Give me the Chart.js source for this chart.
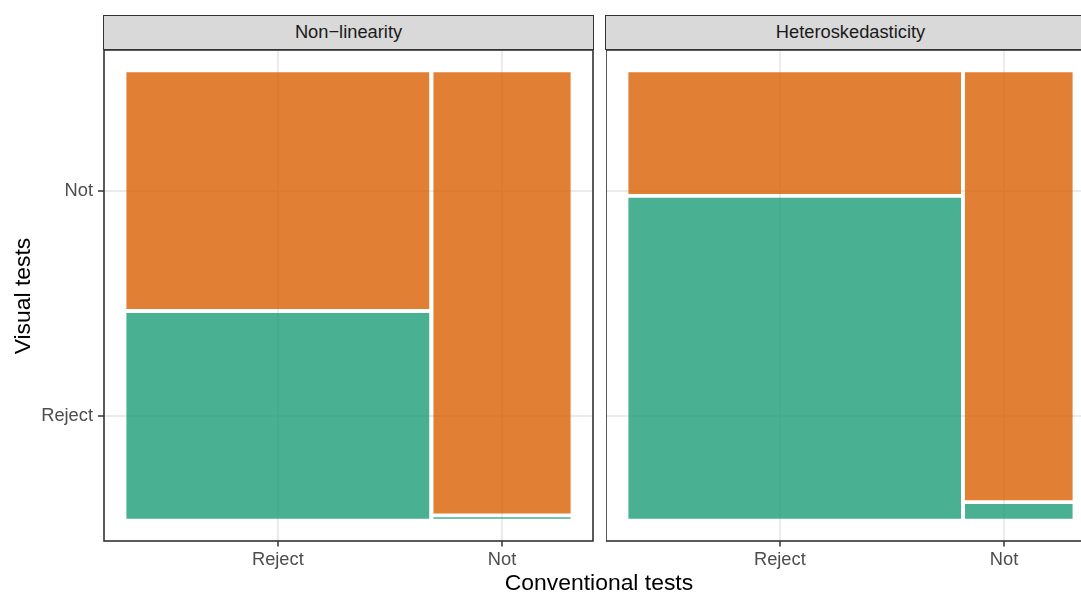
<!DOCTYPE html>
<html>
<head>
<meta charset="utf-8">
<script src="https://cdn.jsdelivr.net/npm/chart.js@4.4.1/dist/chart.umd.min.js"></script>
<style>
  html, body { margin: 0; padding: 0; background: #ffffff; }
  body { width: 1081px; height: 593px; position: relative; overflow: hidden;
         font-family: "Liberation Sans", Arial, sans-serif; }
  canvas { position: absolute; top: 0; }
  .strip { position: absolute; top: 15px; height: 35px; box-sizing: border-box;
           background: #D9D9D9; border: 1.6px solid #333333; color: #1A1A1A;
           font-size: 18.3px; line-height: 32px; text-align: center; }
  .title { position: absolute; color: #000000; font-size: 22.9px; white-space: nowrap; text-align: center; }
</style>
</head>
<body>
<canvas id="panel1" width="600" height="593" style="left:0px"></canvas>
<canvas id="panel2" width="500" height="593" style="left:606px"></canvas>
<div class="strip" id="strip1" style="left:103px; width:491px"></div>
<div class="strip" id="strip2" style="left:605px; width:491px"></div>
<div class="title" id="xTitle" style="left:399px; width:400px; top:571px; line-height:22.9px"></div>
<div class="title" id="yTitle" style="left:-128px; width:300px; top:283.5px; line-height:24px; transform:rotate(-90deg)"></div>
<script>
// Facets and factor levels
const panelNames = ['Non\u2212linearity', 'Heteroskedasticity'];
const conventionalLevels = ['Reject', 'Not'];
const visualLevels = ['Reject', 'Not'];
const xTitle = 'Conventional tests';
const yTitle = 'Visual tests';

// Share of cases in each conventional-test group (columns)
const nonlinConventionalShare = [0.688, 0.312];
const heteroConventionalShare = [0.755, 0.245];

// Share of visual "Reject" within each conventional-test group
const nonlinVisualRejectShare = [0.465, 0.003];
const heteroVisualRejectShare = [0.725, 0.033];

// Gap between tiles, in unit-square coordinates
const SPACING = 0.0085;
const FONT = 'Liberation Sans';
const levelColors = { Reject: 'rgba(27,158,119,0.8)', Not: 'rgba(217,95,2,0.8)' };

// Build mosaic tiles on the unit square: columns by conventional test,
// stacked by visual test (Reject at the bottom, Not on top).
function mosaicTiles(convShare, visRejectShare) {
  const tiles = [];
  const usableX = 1 - SPACING * (convShare.length - 1);
  let x0 = 0;
  convShare.forEach((share, i) => {
    const w = share * usableX;
    const h = visRejectShare[i] * (1 - SPACING);
    tiles.push({ col: i, level: visualLevels[0], x0, x1: x0 + w, y0: 0, y1: h });
    tiles.push({ col: i, level: visualLevels[1], x0, x1: x0 + w, y0: h + SPACING, y1: 1 });
    x0 += w + SPACING;
  });
  return tiles;
}

const nonlinTiles = mosaicTiles(nonlinConventionalShare, nonlinVisualRejectShare);
const heteroTiles = mosaicTiles(heteroConventionalShare, heteroVisualRejectShare);

// Axis breaks come from the first facet: column centres and first-column segment centres
const xTickValues = conventionalLevels.map((_, i) => {
  const t = nonlinTiles.find(d => d.col === i);
  return (t.x0 + t.x1) / 2;
});
const yTickValues = visualLevels.map(lv => {
  const t = nonlinTiles.find(d => d.col === 0 && d.level === lv);
  return (t.y0 + t.y1) / 2;
});

const panelBorder = {
  id: 'panelBorder',
  afterDraw(chart) {
    const { ctx, chartArea: a } = chart;
    ctx.save();
    ctx.strokeStyle = '#333333';
    ctx.lineWidth = 1.6;
    ctx.strokeRect(a.left, a.top, a.right - a.left, a.bottom - a.top);
    ctx.restore();
  }
};

function tileDatasets(tiles) {
  return tiles.map(t => ({
    data: [{ x: t.x0, y: t.y1 }, { x: t.x1, y: t.y1 }],
    fill: { value: t.y0 },
    backgroundColor: levelColors[t.level],
    borderColor: 'rgba(0,0,0,0)',
    borderWidth: 0,
    pointRadius: 0,
    tension: 0
  }));
}

function makePanel(canvasId, tiles, showY, padding) {
  return new Chart(document.getElementById(canvasId), {
    type: 'line',
    data: { datasets: tileDatasets(tiles) },
    options: {
      responsive: false,
      animation: false,
      devicePixelRatio: 1,
      events: [],
      layout: { padding },
      plugins: { legend: { display: false }, tooltip: { enabled: false } },
      scales: {
        x: {
          type: 'linear', min: -0.05, max: 1.05,
          afterBuildTicks: s => { s.ticks = xTickValues.map(v => ({ value: v })); },
          afterFit: s => { s.height = 52; },
          ticks: {
            callback: (v, i) => conventionalLevels[i],
            color: '#4D4D4D', font: { family: FONT, size: 18.3 },
            padding: 2, autoSkip: false, maxRotation: 0, minRotation: 0
          },
          grid: { color: '#EBEBEB', lineWidth: 2, drawTicks: true,
                  tickColor: '#333333', tickLength: 5.5, tickWidth: 1.5 },
          border: { display: false }
        },
        y: {
          type: 'linear', min: -0.05, max: 1.05,
          afterBuildTicks: s => { s.ticks = yTickValues.map(v => ({ value: v })); },
          afterFit: s => { s.width = showY ? 104 : 0; },
          ticks: {
            display: showY,
            callback: (v, i) => visualLevels[i],
            color: '#4D4D4D', font: { family: FONT, size: 18.3 },
            padding: 5, autoSkip: false
          },
          grid: { color: '#EBEBEB', lineWidth: 2, drawTicks: showY,
                  tickColor: '#333333', tickLength: 6, tickWidth: 1.5 },
          border: { display: false }
        }
      }
    },
    plugins: [panelBorder]
  });
}

makePanel('panel1', nonlinTiles, true, { top: 50, right: 7, bottom: 0, left: 0 });
makePanel('panel2', heteroTiles, false, { top: 50, right: 11, bottom: 0, left: 0 });

document.getElementById('strip1').textContent = panelNames[0];
document.getElementById('strip2').textContent = panelNames[1];
document.getElementById('xTitle').textContent = xTitle;
document.getElementById('yTitle').textContent = yTitle;
</script>
</body>
</html>
